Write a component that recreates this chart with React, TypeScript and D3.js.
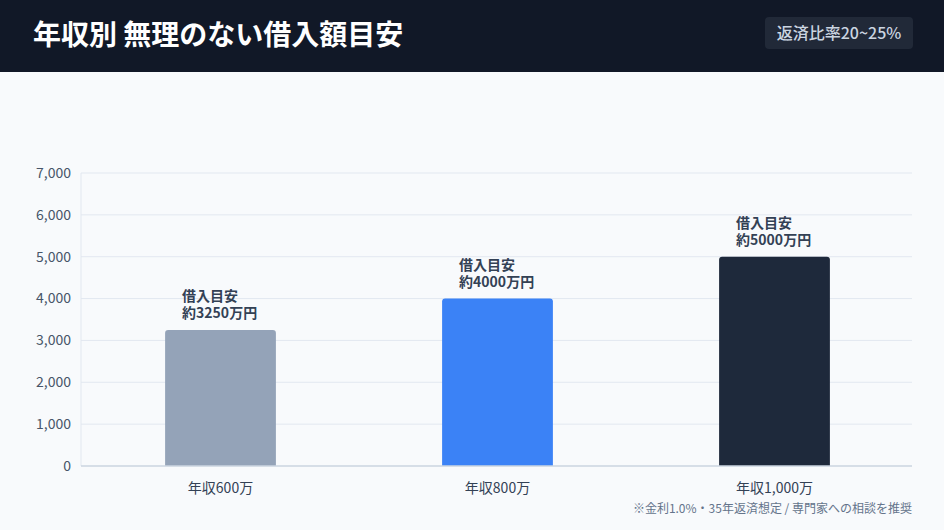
import React from "react";
import * as d3 from "d3";

const categories = ["年収600万", "年収800万", "年収1,000万"];
const values = [3250, 4000, 5000];
const labelTop = ["借入目安", "借入目安", "借入目安"];
const labelBottom = ["約3250万円", "約4000万円", "約5000万円"];
const barColors = ["#94a3b8", "#3b82f6", "#1e293b"];
const yTicks = [0, 1000, 2000, 3000, 4000, 5000, 6000, 7000];
const title = "年収別 無理のない借入額目安";
const badge = "返済比率20~25%";
const footnote = "※金利1.0%・35年返済想定 / 専門家への相談を推奨";

const W = 944;
const H = 530;
const FONT = "'Noto Sans CJK JP', 'Noto Sans', sans-serif";

export default function App() {
  const left = 81, right = 912, top = 173, bottom = 466;
  const x = d3.scaleBand<string>().domain(categories).range([left + 1, right + 1]).paddingInner(0.6).paddingOuter(0.3);
  const y = d3.scaleLinear().domain([0, 7000]).range([bottom, top]);
  const fmt = d3.format(",");
  return (
    <svg width={W} height={H} style={{ position: "fixed", left: 0, top: 0, fontFamily: FONT }}>
      <rect x={0} y={0} width={W} height={H} fill="#f8fafc" />
      <rect x={0} y={0} width={W} height={72} fill="#111827" />
      <text x={33} y={45} fill="#ffffff" fontSize={28} fontWeight={700}>{title}</text>
      <rect x={765} y={17} width={148} height={32} rx={4} fill="#212938" />
      <text x={839} y={39} fill="#cbd5e1" fontSize={16} fontWeight={500} textAnchor="middle">{badge}</text>

      {yTicks.map((t) => (
        <g key={t}>
          {t > 0 && <line x1={left} x2={right} y1={y(t)} y2={y(t)} stroke="#e2e8f0" strokeWidth={1} />}
          <text x={71} y={y(t)} dy="0.35em" textAnchor="end" fontSize={14} fill="#475569">{fmt(t)}</text>
        </g>
      ))}
      <line x1={left} x2={left} y1={top} y2={bottom} stroke="#e2e8f0" strokeWidth={1} />

      {categories.map((c, i) => {
        const bx = x(c)!;
        const by = y(values[i]);
        const bw = x.bandwidth();
        const r = 3;
        const path = `M${bx},${bottom} V${by + r} Q${bx},${by} ${bx + r},${by} H${bx + bw - r} Q${bx + bw},${by} ${bx + bw},${by + r} V${bottom} Z`;
        return (
          <g key={c}>
            <path d={path} fill={barColors[i]} />
            <text x={bx + 17} y={by - 29} fontSize={14} fontWeight={700} fill="#334155">{labelTop[i]}</text>
            <text x={bx + 17} y={by - 12} fontSize={14} fontWeight={700} fill="#334155">{labelBottom[i]}</text>
            <text x={bx + bw / 2} y={493} textAnchor="middle" fontSize={14} fill="#334155">{c}</text>
          </g>
        );
      })}
      <line x1={left} x2={right} y1={bottom} y2={bottom} stroke="#cbd5e1" strokeWidth={1.5} />
      <text x={912} y={513} textAnchor="end" fontSize={12} fill="#64748b">{footnote}</text>
    </svg>
  );
}
